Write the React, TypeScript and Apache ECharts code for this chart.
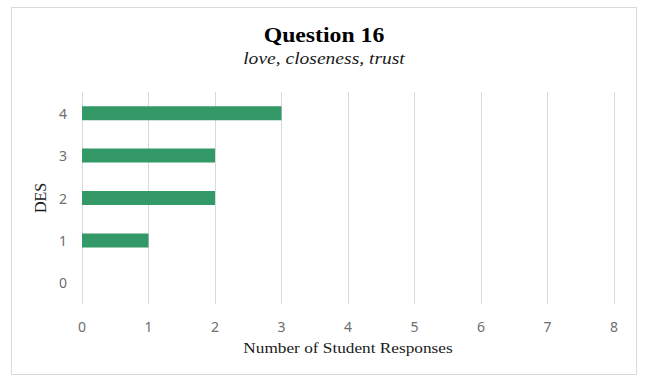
import React, { useEffect, useRef } from "react";
import * as echarts from "echarts";

const categories = ["0", "1", "2", "3", "4"];
const responses = [0, 1, 2, 2, 3];
const xTicks = [0, 1, 2, 3, 4, 5, 6, 7, 8];
const titleText = "Question 16";
const subtitleText = "love, closeness, trust";
const xAxisTitle = "Number of Student Responses";
const yAxisTitle = "DES";

export default function App() {
  const ref = useRef<HTMLDivElement>(null);
  useEffect(() => {
    if (!ref.current) return;
    const chart = echarts.init(ref.current, null, { renderer: "svg" });
    chart.setOption({
      animation: false,
      backgroundColor: "#ffffff",
      graphic: [
        {
          type: "rect",
          shape: { x: 11.5, y: 7.5, width: 625, height: 367 },
          style: { fill: "none", stroke: "#d9d9d9", lineWidth: 1 },
          silent: true,
        },
        {
          type: "text",
          x: 324,
          y: 35,
          scaleX: 1.08,
          style: {
            text: titleText,
            font: "bold 22px 'Liberation Serif'",
            fill: "#000000",
            align: "center",
            verticalAlign: "middle",
          },
        },
        {
          type: "text",
          x: 324,
          y: 58,
          scaleX: 1.15,
          style: {
            text: subtitleText,
            font: "italic 17px 'Liberation Serif'",
            fill: "#1a1a1a",
            align: "center",
            verticalAlign: "middle",
          },
        },
        {
          type: "text",
          x: 348,
          y: 348,
          scaleX: 1.15,
          style: {
            text: xAxisTitle,
            font: "15px 'Liberation Serif'",
            fill: "#1a1a1a",
            align: "center",
            verticalAlign: "middle",
          },
        },
        {
          type: "text",
          x: 40,
          y: 198,
          rotation: Math.PI / 2,
          style: {
            text: yAxisTitle,
            font: "16px 'Liberation Serif'",
            fill: "#1a1a1a",
            align: "center",
            verticalAlign: "middle",
          },
        },
      ],
      grid: { left: 82, right: 33, top: 92, bottom: 77 },
      xAxis: {
        type: "value",
        min: xTicks[0],
        max: xTicks[xTicks.length - 1],
        interval: 1,
        axisLine: { show: false },
        axisTick: { show: false },
        axisLabel: { margin: 15, color: "#6e6e6e", fontSize: 14, fontFamily: "Noto Sans" },
        splitLine: { show: true, lineStyle: { color: "#d9d9d9", width: 1 } },
      },
      yAxis: {
        type: "category",
        data: categories,
        axisLine: { show: false },
        axisTick: { show: false },
        axisLabel: { margin: 15, color: "#6e6e6e", fontSize: 14, fontFamily: "Noto Sans" },
        splitLine: { show: false },
      },
      series: [
        {
          type: "bar",
          data: responses,
          barWidth: 14,
          itemStyle: { color: "#339966" },
        },
      ],
    });
    return () => chart.dispose();
  }, []);
  return (
    <div
      ref={ref}
      style={{ position: "fixed", left: 0, top: 0, width: 647, height: 381 }}
    />
  );
}
